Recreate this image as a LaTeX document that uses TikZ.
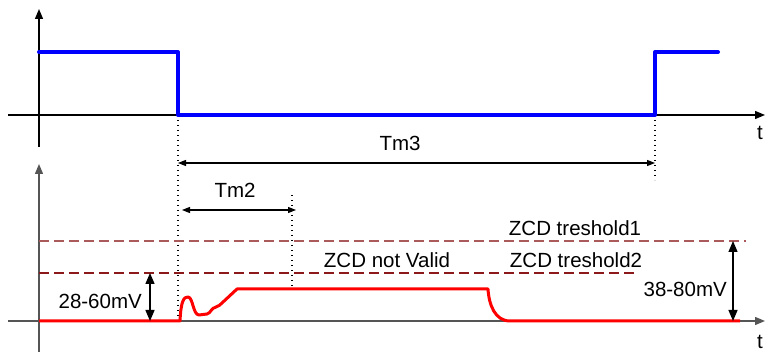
\documentclass[tikz,border=0pt]{standalone}
\usepackage{fontspec}
\setmainfont{Liberation Sans}
\usetikzlibrary{arrows.meta}
\definecolor{zcdonecol}{RGB}{170,90,90}
\definecolor{zcdtwocol}{RGB}{140,25,25}
\definecolor{lowaxiscol}{RGB}{85,85,85}
\tikzset{
  axisline/.style={line width=1.3pt,-{Triangle[length=10pt,width=8pt]}},
  sigtext/.style={inner sep=0pt,anchor=base,font=\fontsize{20.5}{24}\selectfont},
  bluesig/.style={line width=4pt,blue,line join=round,line cap=round},
  redsig/.style={line width=3pt,red,line join=round},
  timemark/.style={line width=1.1pt,dash pattern=on 1.3pt off 3.7pt},
  zcdlevel/.style={line width=1.3pt,dash pattern=on 9.5pt off 5.5pt},
  tmarrow/.style={line width=1.1pt,{Triangle[length=8pt,width=6pt]}-{Triangle[length=8pt,width=6pt]}},
  mvarrow/.style={line width=1.3pt,{Triangle[length=11pt,width=9pt]}-{Triangle[length=11pt,width=9pt]}}
}
\begin{document}
\begin{tikzpicture}[x=1pt,y=-1pt]
        \newcommand{\figzcdaxisx}{39}
        \newcommand{\figzcdtopy}{115}
        \newcommand{\figzcdhighy}{52}
        \newcommand{\figzcdlowy}{321}
        \newcommand{\figzcdfallx}{178}
        \newcommand{\figzcdrisex}{655}
        \newcommand{\figzcdtmtwox}{292}
        \newcommand{\figzcdthrone}{241}
        \newcommand{\figzcdthrtwo}{273}
        \newcommand{\figzcdflaty}{289}
        \useasboundingbox (0,0) rectangle (766,352);
        % axes
        \coordinate (topaxL) at (8,\figzcdtopy);
        \coordinate (topaxR) at (765,\figzcdtopy);
        \coordinate (topaxB) at (\figzcdaxisx,147);
        \coordinate (topaxT) at (\figzcdaxisx,9);
        \coordinate (lowaxL) at (8,\figzcdlowy);
        \coordinate (lowaxR) at (765,\figzcdlowy);
        \coordinate (lowaxB) at (\figzcdaxisx,352);
        \coordinate (lowaxT) at (\figzcdaxisx,164);
        \draw[axisline] (topaxL) -- (topaxR);
        \draw[axisline] (topaxB) -- (topaxT);
        \draw[axisline,lowaxiscol] (lowaxL) -- (lowaxR);
        \draw[axisline,lowaxiscol] (lowaxB) -- (lowaxT);
        \node[sigtext] (toptlabel) at (760,140) {t};
        \node[sigtext] (lowtlabel) at (760,348.5) {t};
        % time marks
        \coordinate (fallmarkT) at (\figzcdfallx,\figzcdtopy);
        \coordinate (fallmarkB) at (\figzcdfallx,322);
        \coordinate (risemarkT) at (\figzcdrisex,\figzcdtopy);
        \coordinate (risemarkB) at (\figzcdrisex,180);
        \coordinate (tmtwomarkT) at (\figzcdtmtwox,195);
        \coordinate (tmtwomarkB) at (\figzcdtmtwox,\figzcdflaty);
        \draw[timemark] (fallmarkT) -- (fallmarkB);
        \draw[timemark] (risemarkT) -- (risemarkB);
        \draw[timemark] (tmtwomarkT) -- (tmtwomarkB);
        \coordinate (tmthreeL) at (\figzcdfallx,163);
        \coordinate (tmthreeR) at (\figzcdrisex,163);
        \draw[tmarrow] (tmthreeL) -- (tmthreeR);
        \node[sigtext] (tmthreelabel) at (400,151) {Tm3};
        \coordinate (tmtwoL) at (182,210);
        \coordinate (tmtwoR) at (296,210);
        \draw[tmarrow] (tmtwoL) -- (tmtwoR);
        \node[sigtext] (tmtwolabel) at (235,198) {Tm2};
        % zcd levels
        \coordinate (throneL) at (\figzcdaxisx,\figzcdthrone);
        \coordinate (throneR) at (746,\figzcdthrone);
        \coordinate (thrtwoL) at (\figzcdaxisx,\figzcdthrtwo);
        \coordinate (thrtwoR) at (637,\figzcdthrtwo);
        \draw[zcdlevel,zcdonecol] (throneL) -- (throneR);
        \draw[zcdlevel,zcdtwocol] (thrtwoL) -- (thrtwoR);
        \node[sigtext] (thronelabel) at (575,236) {ZCD treshold1};
        \node[sigtext] (thrtwolabel) at (576,268) {ZCD treshold2};
        \node[sigtext] (notvalidlabel) at (387,268) {ZCD not Valid};
        % signals
        \draw[bluesig] (\figzcdaxisx,\figzcdhighy) -- (\figzcdfallx,\figzcdhighy) -- (\figzcdfallx,\figzcdtopy)
          -- (\figzcdrisex,\figzcdtopy) -- (\figzcdrisex,\figzcdhighy) -- (718,\figzcdhighy);
        \draw[redsig] (\figzcdaxisx,\figzcdlowy) -- (180,\figzcdlowy)
          .. controls (181,300) and (184,297) .. (188,297)
          .. controls (193,297) and (193,315) .. (199,315) -- (207,314)
          .. controls (211,313) and (211,308) .. (216,307)
          .. controls (219,306) and (220,305) .. (222,303) -- (237,\figzcdflaty) -- (488,\figzcdflaty)
          .. controls (489,305) and (495,\figzcdlowy) .. (510,\figzcdlowy) -- (740,\figzcdlowy);
        % amplitudes
        \coordinate (mvoneT) at (150,\figzcdthrtwo);
        \coordinate (mvoneB) at (150,\figzcdlowy);
        \coordinate (mvtwoT) at (733,\figzcdthrone);
        \coordinate (mvtwoB) at (733,\figzcdlowy);
        \draw[mvarrow] (mvoneT) -- (mvoneB);
        \draw[mvarrow] (mvtwoT) -- (mvtwoB);
        \node[sigtext,anchor=base east] (mvonelabel) at (142,309) {28-60mV};
        \node[sigtext,anchor=base east] (mvtwolabel) at (727,297) {38-80mV};
\end{tikzpicture}
\end{document}
